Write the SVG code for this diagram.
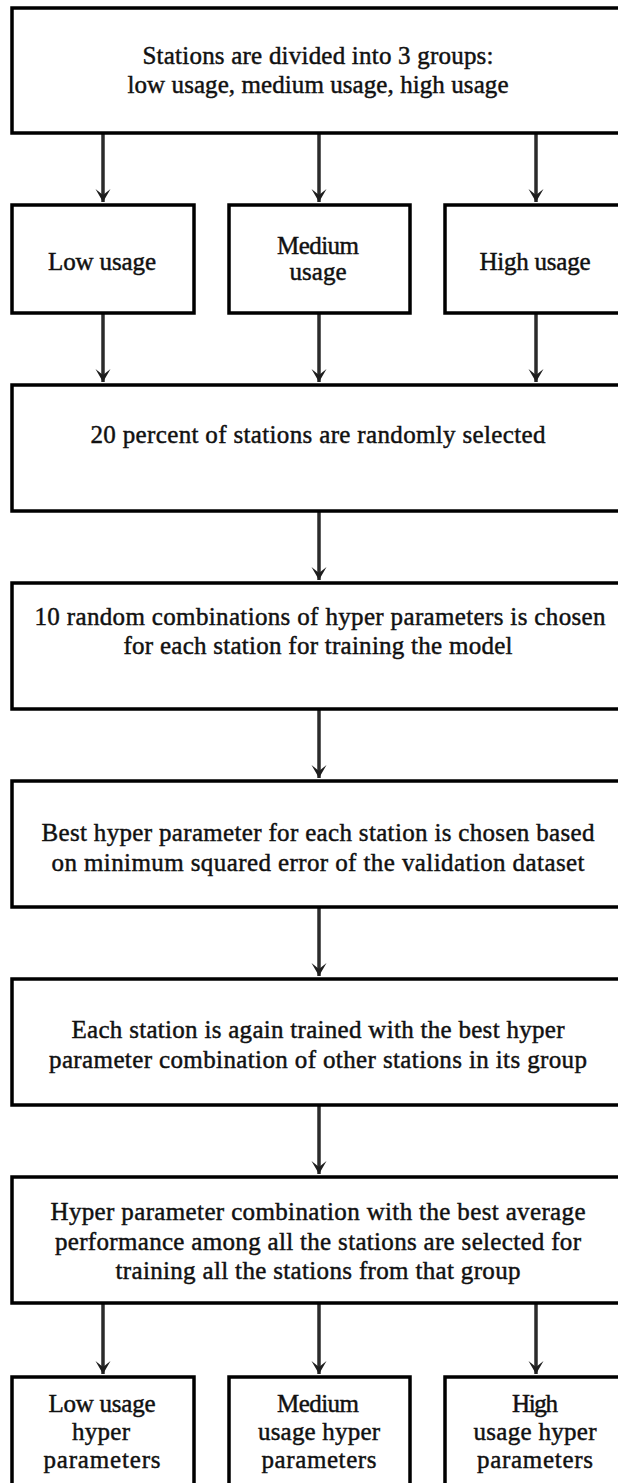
<svg xmlns="http://www.w3.org/2000/svg" width="618" height="1483" viewBox="0 0 618 1483">
<defs>
<style>
.box{fill:#fff;stroke:#000;stroke-width:3.5}
.t{font-family:"Liberation Serif","Times New Roman",serif;font-size:25px;fill:#111;stroke:#111;stroke-width:0.45;text-anchor:middle}
.c{stroke:#2b2b2b;stroke-width:3.5;fill:none}
</style>
<marker id="ah" viewBox="-15 -9 16 18" refX="0" refY="0" markerWidth="16" markerHeight="18" markerUnits="userSpaceOnUse" orient="auto">
<path d="M0,0 L-13,-7.5 L-7,0 L-13,7.5 Z" fill="#1e1e1e"/>
</marker>
</defs>
<rect width="618" height="1483" fill="#fff"/>
<g id="connectors">
<line class="c" x1="103" y1="133" x2="103" y2="202" marker-end="url(#ah)"/>
<line class="c" x1="319" y1="133" x2="319" y2="202" marker-end="url(#ah)"/>
<line class="c" x1="536" y1="133" x2="536" y2="202" marker-end="url(#ah)"/>
<line class="c" x1="103" y1="313" x2="103" y2="382" marker-end="url(#ah)"/>
<line class="c" x1="319" y1="313" x2="319" y2="382" marker-end="url(#ah)"/>
<line class="c" x1="536" y1="313" x2="536" y2="382" marker-end="url(#ah)"/>
<line class="c" x1="319" y1="511" x2="319" y2="580" marker-end="url(#ah)"/>
<line class="c" x1="319" y1="709" x2="319" y2="778" marker-end="url(#ah)"/>
<line class="c" x1="319" y1="907" x2="319" y2="976" marker-end="url(#ah)"/>
<line class="c" x1="319" y1="1105" x2="319" y2="1174" marker-end="url(#ah)"/>
<line class="c" x1="103" y1="1303" x2="103" y2="1374" marker-end="url(#ah)"/>
<line class="c" x1="319" y1="1303" x2="319" y2="1374" marker-end="url(#ah)"/>
<line class="c" x1="536" y1="1303" x2="536" y2="1374" marker-end="url(#ah)"/>
</g>
<g id="n-groups">
<rect class="box" x="12" y="8" width="620" height="125"/>
<text class="t" x="318" y="64" textLength="351">Stations are divided into 3 groups:</text>
<text class="t" x="318" y="93" textLength="381">low usage, medium usage, high usage</text>
</g>
<g id="n-low">
<rect class="box" x="12" y="205" width="182" height="108"/>
<text class="t" x="102" y="270" textLength="108">Low usage</text>
</g>
<g id="n-medium">
<rect class="box" x="229" y="205" width="181" height="108"/>
<text class="t" x="318" y="254" textLength="82">Medium</text>
<text class="t" x="318" y="280" textLength="57">usage</text>
</g>
<g id="n-high">
<rect class="box" x="445" y="205" width="190" height="108"/>
<text class="t" x="535" y="270" textLength="111">High usage</text>
</g>
<g id="n-select">
<rect class="box" x="12" y="385" width="620" height="126"/>
<text class="t" x="318" y="443" textLength="455">20 percent of stations are randomly selected</text>
</g>
<g id="n-random">
<rect class="box" x="12" y="583" width="620" height="126"/>
<text class="t" x="320" y="625" textLength="571">10 random combinations of hyper parameters is chosen</text>
<text class="t" x="318" y="654" textLength="389">for each station for training the model</text>
</g>
<g id="n-best">
<rect class="box" x="12" y="781" width="620" height="126"/>
<text class="t" x="318" y="841" textLength="553">Best hyper parameter for each station is chosen based</text>
<text class="t" x="318" y="871" textLength="533">on minimum squared error of the validation dataset</text>
</g>
<g id="n-retrain">
<rect class="box" x="12" y="979" width="620" height="126"/>
<text class="t" x="318" y="1038" textLength="493">Each station is again trained with the best hyper</text>
<text class="t" x="318" y="1068" textLength="538">parameter combination of other stations in its group</text>
</g>
<g id="n-average">
<rect class="box" x="12" y="1177" width="620" height="126"/>
<text class="t" x="318" y="1220" textLength="535">Hyper parameter combination with the best average</text>
<text class="t" x="318" y="1250" textLength="526">performance among all the stations are selected for</text>
<text class="t" x="318" y="1279" textLength="405">training all the stations from that group</text>
</g>
<g id="n-low-hp">
<rect class="box" x="12" y="1377" width="182" height="120"/>
<text class="t" x="102" y="1412" textLength="107">Low usage</text>
<text class="t" x="101" y="1440" textLength="58">hyper</text>
<text class="t" x="102" y="1468" textLength="117">parameters</text>
</g>
<g id="n-medium-hp">
<rect class="box" x="229" y="1377" width="181" height="120"/>
<text class="t" x="318" y="1412" textLength="82">Medium</text>
<text class="t" x="319" y="1440" textLength="122">usage hyper</text>
<text class="t" x="319" y="1468" textLength="115">parameters</text>
</g>
<g id="n-high-hp">
<rect class="box" x="445" y="1377" width="190" height="120"/>
<text class="t" x="535" y="1412" textLength="46">High</text>
<text class="t" x="535" y="1440" textLength="123">usage hyper</text>
<text class="t" x="535" y="1468" textLength="116">parameters</text>
</g>
</svg>
